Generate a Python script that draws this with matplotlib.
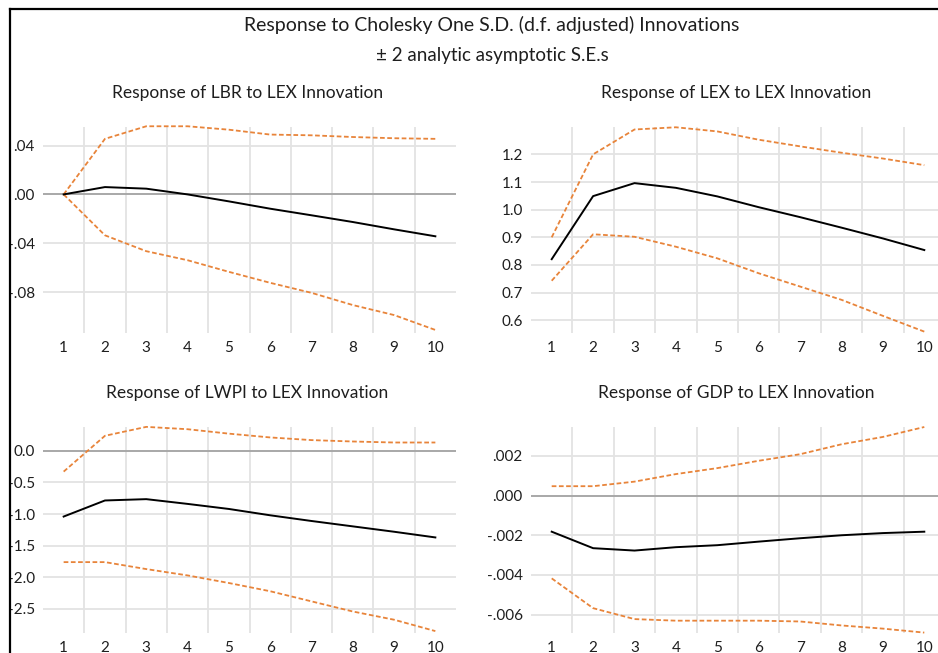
import matplotlib
matplotlib.use("Agg")
import matplotlib.pyplot as plt
from matplotlib.lines import Line2D

plt.rcParams['font.family'] = ['Lato', 'DejaVu Sans']

periods = [1, 2, 3, 4, 5, 6, 7, 8, 9, 10]
period_labels = ["1", "2", "3", "4", "5", "6", "7", "8", "9", "10"]

# Response of LBR to LEX
lbr_resp = [0.000, 0.0060, 0.0047, 0.0000, -0.0057, -0.0117, -0.0171, -0.0226, -0.0286, -0.0343]
lbr_upper = [0.000, 0.0455, 0.0558, 0.0558, 0.0530, 0.0490, 0.0484, 0.0470, 0.0460, 0.0455]
lbr_lower = [0.000, -0.0335, -0.0465, -0.0539, -0.0634, -0.0724, -0.0806, -0.0906, -0.0988, -0.1110]

# Response of LEX to LEX
lex_resp = [0.821, 1.049, 1.096, 1.079, 1.048, 1.009, 0.973, 0.935, 0.896, 0.854]
lex_upper = [0.900, 1.200, 1.290, 1.298, 1.283, 1.253, 1.229, 1.206, 1.185, 1.161]
lex_lower = [0.743, 0.911, 0.902, 0.866, 0.824, 0.770, 0.722, 0.674, 0.616, 0.559]

# Response of LWPI to LEX
lwpi_resp = [-1.04, -0.786, -0.765, -0.84, -0.92, -1.02, -1.11, -1.195, -1.28, -1.37]
lwpi_upper = [-0.33, 0.236, 0.377, 0.34, 0.27, 0.21, 0.168, 0.146, 0.13, 0.13]
lwpi_lower = [-1.76, -1.76, -1.87, -1.97, -2.09, -2.22, -2.38, -2.54, -2.67, -2.85]

# Response of GDP to LEX
gdp_resp = [-0.00182, -0.00265, -0.00277, -0.00260, -0.00250, -0.00232, -0.00215, -0.00200, -0.00189, -0.00182]
gdp_upper = [0.00047, 0.00047, 0.00070, 0.00108, 0.00138, 0.00175, 0.00208, 0.00258, 0.00295, 0.00345]
gdp_lower = [-0.00417, -0.00567, -0.00622, -0.00630, -0.00630, -0.00630, -0.00634, -0.00654, -0.00670, -0.00690]

panels = [
    dict(title="Response of LBR to LEX Innovation", resp=lbr_resp, up=lbr_upper, lo=lbr_lower,
         yticks=[0.04, 0.00, -0.04, -0.08], ylabels=[".04", ".00", "-.04", "-.08"],
         ylim=(-0.1135, 0.0552), zero=True, box=(43, 127, 456, 333)),
    dict(title="Response of LEX to LEX Innovation", resp=lex_resp, up=lex_upper, lo=lex_lower,
         yticks=[1.2, 1.1, 1.0, 0.9, 0.8, 0.7, 0.6],
         ylabels=["1.2", "1.1", "1.0", "0.9", "0.8", "0.7", "0.6"],
         ylim=(0.554, 1.299), zero=False, box=(531, 127, 945, 333)),
    dict(title="Response of LWPI to LEX Innovation", resp=lwpi_resp, up=lwpi_upper, lo=lwpi_lower,
         yticks=[0.0, -0.5, -1.0, -1.5, -2.0, -2.5],
         ylabels=["0.0", "-0.5", "-1.0", "-1.5", "-2.0", "-2.5"],
         ylim=(-2.88, 0.375), zero=True, box=(43, 427, 456, 633)),
    dict(title="Response of GDP to LEX Innovation", resp=gdp_resp, up=gdp_upper, lo=gdp_lower,
         yticks=[0.002, 0.000, -0.002, -0.004, -0.006],
         ylabels=[".002", ".000", "-.002", "-.004", "-.006"],
         ylim=(-0.00692, 0.00345), zero=True, box=(531, 427, 945, 633)),
]

W, H = 938, 653
fig = plt.figure(figsize=(W / 100, H / 100), dpi=100)

ORANGE = "#E8843A"
GRID = "#E3E3E3"
TEXT = "#1E1E1E"

for p in panels:
    x0, y0, x1, y1 = p["box"]
    ax = fig.add_axes([x0 / W, 1 - y1 / H, (x1 - x0) / W, (y1 - y0) / H])
    ax.set_xlim(0.5, 10.5)
    ax.set_ylim(*p["ylim"])
    for s in ax.spines.values():
        s.set_visible(False)
    # horizontal grid at the labelled values, vertical grid between periods
    for v in p["yticks"]:
        if p["zero"] and abs(v) < 1e-12:
            continue
        ax.axhline(v, color=GRID, lw=1.3, zorder=0)
    for xb in [i + 0.5 for i in range(1, 10)]:
        ax.axvline(xb, color=GRID, lw=1.3, zorder=0)
    if p["zero"]:
        ax.axhline(0, color="#A8A8A8", lw=1.4, zorder=1)
    ax.plot(periods, p["up"], color=ORANGE, lw=1.3, dashes=(2.6, 1.4), zorder=2, clip_on=False)
    ax.plot(periods, p["lo"], color=ORANGE, lw=1.3, dashes=(2.6, 1.4), zorder=2, clip_on=False)
    ax.plot(periods, p["resp"], color="black", lw=1.4, zorder=3, clip_on=False)
    ax.set_xticks(periods)
    ax.set_xticklabels(period_labels)
    ax.set_yticks(p["yticks"])
    ax.set_yticklabels(p["ylabels"])
    ax.tick_params(length=0, labelsize=11, colors=TEXT, pad=6)
    ax.tick_params(axis="x", pad=6)
    fig.text((x0 + x1) / 2 / W - 2 / W, 1 - (y0 - 34) / H, p["title"],
             ha="center", va="center", fontsize=12.5, color=TEXT)

fig.text(492 / W, 1 - 25 / H,
         "Response to Cholesky One S.D. (d.f. adjusted) Innovations",
         ha="center", va="center", fontsize=14, color=TEXT)
fig.text(492 / W, 1 - 55 / H, "\u00b1 2 analytic asymptotic S.E.s",
         ha="center", va="center", fontsize=13.5, color=TEXT)

# outer frame (left and top edges)
fig.add_artist(Line2D([10 / W, 10 / W], [0, 1 - 9 / H], transform=fig.transFigure, color="black", lw=1.6))
fig.add_artist(Line2D([10 / W, 1], [1 - 9 / H, 1 - 9 / H], transform=fig.transFigure, color="black", lw=1.6))

fig.savefig("out.png", dpi=100)
